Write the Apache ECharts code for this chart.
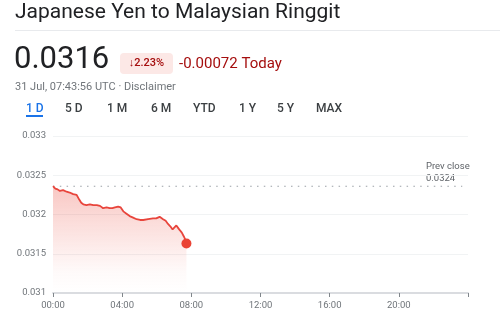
<!DOCTYPE html>
<html>
<head>
<meta charset="utf-8">
<script src="https://cdn.jsdelivr.net/npm/echarts@6/dist/echarts.min.js"></script>
<style>
html,body{margin:0;padding:0;background:#fff;}
#c{width:500px;height:318px;}
</style>
</head>
<body>
<div id="c"></div>
<script>
// Data (minutes since 00:00 UTC, JPY->MYR rate)
const times = [0, 8, 16, 24, 35, 47, 58, 70, 82, 91, 98, 105, 116, 128, 140, 152, 163, 174, 186, 197, 206, 215, 226, 235, 244, 255, 266, 278, 290, 302, 313, 330, 347, 358, 370, 376, 382, 391, 399, 407, 415, 421, 428, 434, 440, 447, 454, 459, 463];
const rates = [0.03236, 0.03233, 0.03232, 0.03230, 0.03231, 0.03229, 0.03228, 0.03226, 0.03225, 0.03219, 0.03215, 0.03213, 0.03212, 0.03213, 0.03212, 0.03212, 0.03211, 0.03208, 0.03209, 0.03208, 0.03208, 0.03209, 0.03210, 0.03209, 0.03204, 0.03201, 0.03198, 0.03196, 0.03194, 0.03193, 0.03193, 0.03194, 0.03195, 0.03195, 0.03197, 0.03198, 0.03194, 0.03192, 0.03188, 0.03185, 0.03181, 0.03183, 0.03186, 0.03183, 0.03180, 0.03177, 0.03172, 0.03168, 0.03163];
const prevClose = 0.03236;
const prevCloseSpan = [0, 1420];
const xTicks = ['00:00', '04:00', '08:00', '12:00', '16:00', '20:00'];
const yTicks = [0.031, 0.0315, 0.032, 0.0325, 0.033];
const tabs = ['1 D', '5 D', '1 M', '6 M', 'YTD', '1 Y', '5 Y', 'MAX'];
const tabX = [26, 65, 107, 151, 193, 239, 277, 316];

const FONT = 'Roboto, Arial, sans-serif';
const series = times.map((t, i) => [t, rates[i]]);
const last = series[series.length - 1];
const prevLine = prevCloseSpan.map(t => [t, prevClose]);

const chart = echarts.init(document.getElementById('c'), null, {renderer: 'canvas'});

const graphics = [
  {type: 'text', left: 15, top: 2, style: {text: 'Japanese Yen to Malaysian Ringgit', font: '400 21px ' + FONT, fill: '#202124'}},
  {type: 'rect', shape: {x: 15, y: 30, width: 485, height: 1}, style: {fill: '#e8eaed'}},
  {type: 'text', left: 14, top: 45, style: {text: '0.0316', font: '400 31px ' + FONT, fill: '#202124'}},
  {type: 'rect', shape: {x: 120, y: 53, width: 53, height: 21, r: 4}, style: {fill: '#fce8e6'}},
  {type: 'text', x: 146.5, y: 63, style: {text: '\u2193' + '2.23%', font: '500 11px ' + FONT, fill: '#a50e0e', align: 'center', verticalAlign: 'middle'}},
  {type: 'text', x: 179, y: 64, style: {text: '-0.00072 Today', font: '400 15px ' + FONT, fill: '#a50e0e', verticalAlign: 'middle'}},
  {type: 'text', x: 15, y: 87, style: {text: '31 Jul, 07:43:56 UTC \u00b7 Disclaimer', font: '400 11px ' + FONT, fill: '#70757a', verticalAlign: 'middle'}},
  {type: 'rect', shape: {x: 26, y: 115, width: 17, height: 2}, style: {fill: '#1a73e8'}},
  {type: 'text', x: 426, y: 167, style: {text: 'Prev close', font: '400 9.5px ' + FONT, fill: '#5f6368', verticalAlign: 'middle'}},
  {type: 'text', x: 426, y: 179, style: {text: '0.0324', font: '400 9.5px ' + FONT, fill: '#5f6368', verticalAlign: 'middle'}}
];
tabs.forEach((t, i) => {
  graphics.push({type: 'text', x: tabX[i], y: 109, style: {text: t, font: '500 12px ' + FONT, fill: i === 0 ? '#1a73e8' : '#3c4043', verticalAlign: 'middle'}});
});

chart.setOption({
  animation: false,
  grid: {left: 53, right: 32, top: 136, bottom: 25},
  xAxis: {
    type: 'value', min: 0, max: 1440, interval: 240,
    axisLine: {show: true, lineStyle: {color: '#dadce0', width: 2}},
    axisTick: {show: true, length: 4, lineStyle: {color: '#80868b', width: 1}},
    splitLine: {show: false},
    axisLabel: {
      color: '#70757a', fontSize: 9.5, fontFamily: FONT, margin: 8,
      formatter: v => { const i = Math.round(v / 240); return i < xTicks.length ? xTicks[i] : ''; }
    }
  },
  yAxis: {
    type: 'value', min: 0.031, max: 0.033, interval: 0.0005,
    axisLine: {show: false}, axisTick: {show: false},
    splitLine: {lineStyle: {color: '#f1f3f4', width: 1}},
    axisLabel: {
      color: '#70757a', fontSize: 9.5, fontFamily: FONT, margin: 7,
      formatter: v => { let best = yTicks[0]; yTicks.forEach(t => { if (Math.abs(t - v) < Math.abs(best - v)) best = t; }); return String(best); }
    }
  },
  series: [
    {
      type: 'line', data: prevLine, showSymbol: false, symbol: 'none', silent: true,
      lineStyle: {color: '#9aa0a6', type: [1.5, 5.3], width: 1.2}, z: 2
    },
    {
      type: 'line', data: series, showSymbol: false, symbol: 'none',
      lineStyle: {color: '#e8453c', width: 1.8},
      areaStyle: {
        color: new echarts.graphic.LinearGradient(0, 0, 0, 1, [
          {offset: 0, color: 'rgba(234,67,53,0.42)'},
          {offset: 0.8, color: 'rgba(234,67,53,0.04)'},
          {offset: 1, color: 'rgba(234,67,53,0)'}
        ])
      },
      z: 3
    },
    {
      type: 'scatter', data: [last], symbolSize: 10,
      itemStyle: {color: '#ea4335', opacity: 1}, z: 4
    }
  ],
  graphic: graphics
});
</script>
</body>
</html>
